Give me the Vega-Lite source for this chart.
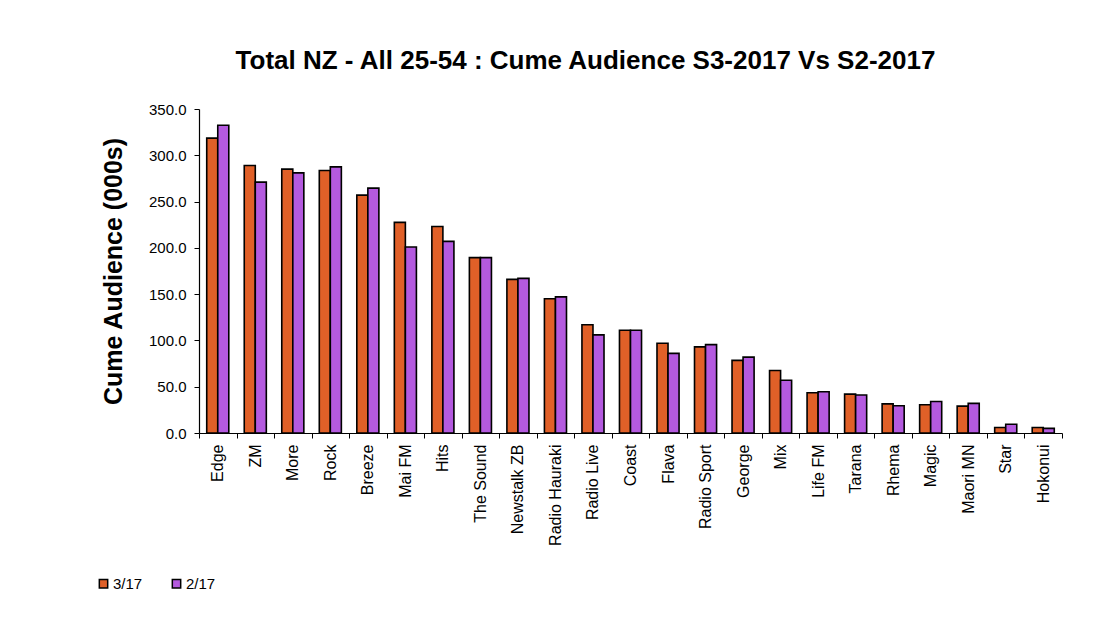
{
  "$schema": "https://vega.github.io/schema/vega-lite/v6.json",
  "autosize": {"type": "none"},
  "padding": {"left": 199, "top": 109, "right": 54, "bottom": 189},
  "width": 863,
  "height": 324,
  "background": "white",
  "title": {
    "text": "Total NZ - All 25-54 : Cume Audience S3-2017 Vs S2-2017",
    "font": "Liberation Sans",
    "fontSize": 26,
    "fontWeight": "bold",
    "color": "black",
    "anchor": "middle",
    "dx": -45,
    "offset": 28
  },
  "data": {
    "values": [
      {"station": "Edge", "series": "3/17", "value": 318.5},
      {"station": "Edge", "series": "2/17", "value": 332.5},
      {"station": "ZM", "series": "3/17", "value": 289},
      {"station": "ZM", "series": "2/17", "value": 271},
      {"station": "More", "series": "3/17", "value": 285},
      {"station": "More", "series": "2/17", "value": 281},
      {"station": "Rock", "series": "3/17", "value": 283.5},
      {"station": "Rock", "series": "2/17", "value": 287.5},
      {"station": "Breeze", "series": "3/17", "value": 257},
      {"station": "Breeze", "series": "2/17", "value": 264.5},
      {"station": "Mai FM", "series": "3/17", "value": 227.5},
      {"station": "Mai FM", "series": "2/17", "value": 201},
      {"station": "Hits", "series": "3/17", "value": 223},
      {"station": "Hits", "series": "2/17", "value": 207},
      {"station": "The Sound", "series": "3/17", "value": 189.5},
      {"station": "The Sound", "series": "2/17", "value": 189.5},
      {"station": "Newstalk ZB", "series": "3/17", "value": 166},
      {"station": "Newstalk ZB", "series": "2/17", "value": 167},
      {"station": "Radio Hauraki", "series": "3/17", "value": 145},
      {"station": "Radio Hauraki", "series": "2/17", "value": 147},
      {"station": "Radio Live", "series": "3/17", "value": 117},
      {"station": "Radio Live", "series": "2/17", "value": 106},
      {"station": "Coast", "series": "3/17", "value": 111},
      {"station": "Coast", "series": "2/17", "value": 111},
      {"station": "Flava", "series": "3/17", "value": 97},
      {"station": "Flava", "series": "2/17", "value": 86},
      {"station": "Radio Sport", "series": "3/17", "value": 93},
      {"station": "Radio Sport", "series": "2/17", "value": 95.5},
      {"station": "George", "series": "3/17", "value": 78.5},
      {"station": "George", "series": "2/17", "value": 82},
      {"station": "Mix", "series": "3/17", "value": 67.5},
      {"station": "Mix", "series": "2/17", "value": 57},
      {"station": "Life FM", "series": "3/17", "value": 43.5},
      {"station": "Life FM", "series": "2/17", "value": 44.5},
      {"station": "Tarana", "series": "3/17", "value": 42},
      {"station": "Tarana", "series": "2/17", "value": 41},
      {"station": "Rhema", "series": "3/17", "value": 31.5},
      {"station": "Rhema", "series": "2/17", "value": 29.5},
      {"station": "Magic", "series": "3/17", "value": 30.5},
      {"station": "Magic", "series": "2/17", "value": 34},
      {"station": "Maori MN", "series": "3/17", "value": 29},
      {"station": "Maori MN", "series": "2/17", "value": 32},
      {"station": "Star", "series": "3/17", "value": 6},
      {"station": "Star", "series": "2/17", "value": 9.5},
      {"station": "Hokonui", "series": "3/17", "value": 6},
      {"station": "Hokonui", "series": "2/17", "value": 5}
    ]
  },
  "mark": {"type": "bar", "stroke": "black", "strokeWidth": 1.6},
  "encoding": {
    "x": {
      "field": "station",
      "type": "nominal",
      "sort": null,
      "scale": {"paddingInner": 0, "paddingOuter": 0},
      "axis": {
        "title": null,
        "labelAngle": -90,
        "labelFont": "Liberation Sans",
        "labelFontSize": 16,
        "labelColor": "black",
        "labelPadding": 6,
        "tickBand": "extent",
        "tickSize": 5,
        "tickColor": "black",
        "domainColor": "black",
        "domainWidth": 1.2,
        "grid": false
      }
    },
    "xOffset": {
      "field": "series",
      "type": "nominal",
      "sort": ["3/17", "2/17"],
      "scale": {"paddingInner": 0, "paddingOuter": 0.7}
    },
    "y": {
      "field": "value",
      "type": "quantitative",
      "scale": {"domain": [0, 350], "nice": false},
      "axis": {
        "title": "Cume Audience (000s)",
        "titleFont": "Liberation Sans",
        "titleFontSize": 25,
        "titleFontWeight": "bold",
        "titleColor": "black",
        "titlePadding": 22,
        "values": [0, 50, 100, 150, 200, 250, 300, 350],
        "format": ".1f",
        "labelFont": "Liberation Sans",
        "labelFontSize": 15,
        "labelColor": "black",
        "labelPadding": 8,
        "tickSize": 5,
        "tickColor": "black",
        "domainColor": "black",
        "domainWidth": 1.2,
        "grid": false
      }
    },
    "color": {
      "field": "series",
      "type": "nominal",
      "scale": {"domain": ["3/17", "2/17"], "range": ["#E06028", "#B45ADF"]},
      "legend": {
        "title": null,
        "orient": "none",
        "direction": "horizontal",
        "legendX": -103,
        "legendY": 467,
        "symbolType": "square",
        "symbolSize": 70,
        "symbolStrokeColor": "black",
        "symbolStrokeWidth": 1.5,
        "labelFont": "Liberation Sans",
        "labelFontSize": 15,
        "labelColor": "black",
        "labelOffset": 2,
        "columnPadding": 26
      }
    }
  },
  "config": {"view": {"stroke": null}}
}
